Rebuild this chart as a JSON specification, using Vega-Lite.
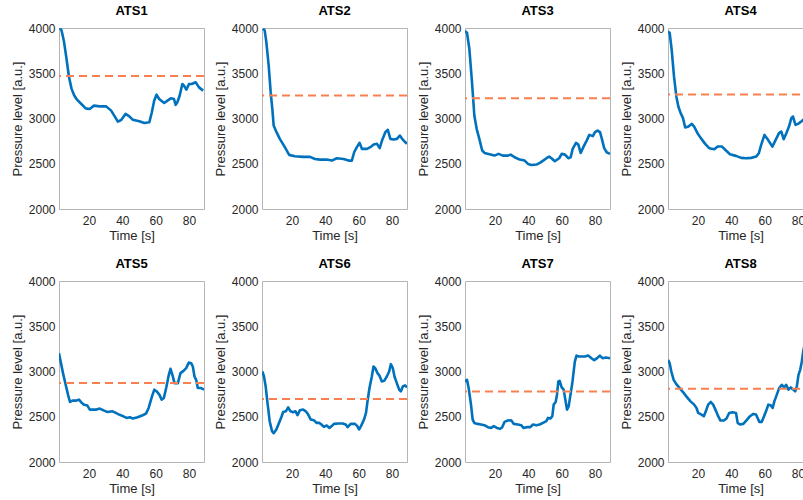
{
  "$schema": "https://vega.github.io/schema/vega-lite/v6.json",
  "padding": {"left": 10, "top": 4, "right": 0, "bottom": 0},
  "background": "white",
  "datasets": {
    "d": [
      {"s":"ATS1","t":2.5,"p":4000},{"s":"ATS1","t":3.5,"p":3975},{"s":"ATS1","t":5,"p":3850},{"s":"ATS1","t":6.5,"p":3660},{"s":"ATS1","t":7.9,"p":3470},{"s":"ATS1","t":9.5,"p":3330},{"s":"ATS1","t":11,"p":3260},{"s":"ATS1","t":12.5,"p":3215},{"s":"ATS1","t":15.4,"p":3160},{"s":"ATS1","t":18,"p":3112},{"s":"ATS1","t":20.4,"p":3105},{"s":"ATS1","t":23,"p":3142},{"s":"ATS1","t":26.4,"p":3134},{"s":"ATS1","t":30.3,"p":3134},{"s":"ATS1","t":33.3,"p":3087},{"s":"ATS1","t":35.5,"p":3020},{"s":"ATS1","t":37.3,"p":2965},{"s":"ATS1","t":39.3,"p":2983},{"s":"ATS1","t":41.9,"p":3050},{"s":"ATS1","t":44.2,"p":3024},{"s":"ATS1","t":46.2,"p":2987},{"s":"ATS1","t":50.2,"p":2969},{"s":"ATS1","t":53.2,"p":2950},{"s":"ATS1","t":56.2,"p":2958},{"s":"ATS1","t":57.7,"p":3068},{"s":"ATS1","t":59.1,"p":3197},{"s":"ATS1","t":60.5,"p":3263},{"s":"ATS1","t":62.1,"p":3215},{"s":"ATS1","t":65.1,"p":3171},{"s":"ATS1","t":67.1,"p":3197},{"s":"ATS1","t":69.1,"p":3223},{"s":"ATS1","t":71,"p":3215},{"s":"ATS1","t":72,"p":3150},{"s":"ATS1","t":73,"p":3179},{"s":"ATS1","t":74.4,"p":3252},{"s":"ATS1","t":76,"p":3381},{"s":"ATS1","t":77,"p":3363},{"s":"ATS1","t":78.4,"p":3318},{"s":"ATS1","t":80,"p":3381},{"s":"ATS1","t":81.6,"p":3381},{"s":"ATS1","t":84,"p":3400},{"s":"ATS1","t":86,"p":3344},{"s":"ATS1","t":88.5,"p":3308},
      {"s":"ATS2","t":2.6,"p":3993},{"s":"ATS2","t":3.6,"p":3974},{"s":"ATS2","t":4.6,"p":3845},{"s":"ATS2","t":6,"p":3587},{"s":"ATS2","t":7.2,"p":3291},{"s":"ATS2","t":8.2,"p":3107},{"s":"ATS2","t":9,"p":2922},{"s":"ATS2","t":10.7,"p":2849},{"s":"ATS2","t":12.7,"p":2775},{"s":"ATS2","t":15.7,"p":2683},{"s":"ATS2","t":18.3,"p":2598},{"s":"ATS2","t":21.7,"p":2583},{"s":"ATS2","t":26.7,"p":2576},{"s":"ATS2","t":30.8,"p":2576},{"s":"ATS2","t":33.8,"p":2553},{"s":"ATS2","t":36.8,"p":2546},{"s":"ATS2","t":40.8,"p":2546},{"s":"ATS2","t":43.9,"p":2535},{"s":"ATS2","t":46.9,"p":2561},{"s":"ATS2","t":50.9,"p":2553},{"s":"ATS2","t":53.9,"p":2535},{"s":"ATS2","t":55.9,"p":2535},{"s":"ATS2","t":57.3,"p":2627},{"s":"ATS2","t":58.9,"p":2683},{"s":"ATS2","t":60.5,"p":2731},{"s":"ATS2","t":62,"p":2664},{"s":"ATS2","t":65,"p":2664},{"s":"ATS2","t":67,"p":2683},{"s":"ATS2","t":69,"p":2712},{"s":"ATS2","t":71,"p":2720},{"s":"ATS2","t":72.6,"p":2672},{"s":"ATS2","t":74,"p":2756},{"s":"ATS2","t":76,"p":2849},{"s":"ATS2","t":77.5,"p":2875},{"s":"ATS2","t":79,"p":2775},{"s":"ATS2","t":81,"p":2768},{"s":"ATS2","t":83,"p":2775},{"s":"ATS2","t":84.7,"p":2812},{"s":"ATS2","t":86.1,"p":2775},{"s":"ATS2","t":87.5,"p":2746},{"s":"ATS2","t":89,"p":2720},
      {"s":"ATS3","t":2,"p":3967},{"s":"ATS3","t":3.2,"p":3948},{"s":"ATS3","t":4.6,"p":3771},{"s":"ATS3","t":6.2,"p":3402},{"s":"ATS3","t":7.6,"p":3033},{"s":"ATS3","t":9,"p":2886},{"s":"ATS3","t":10.6,"p":2775},{"s":"ATS3","t":12.3,"p":2646},{"s":"ATS3","t":13.7,"p":2620},{"s":"ATS3","t":16.7,"p":2605},{"s":"ATS3","t":19.7,"p":2590},{"s":"ATS3","t":22.1,"p":2609},{"s":"ATS3","t":24.7,"p":2590},{"s":"ATS3","t":27.8,"p":2590},{"s":"ATS3","t":29.4,"p":2601},{"s":"ATS3","t":31.8,"p":2572},{"s":"ATS3","t":34.8,"p":2546},{"s":"ATS3","t":37.8,"p":2535},{"s":"ATS3","t":39.8,"p":2498},{"s":"ATS3","t":41.8,"p":2487},{"s":"ATS3","t":44.9,"p":2491},{"s":"ATS3","t":46.9,"p":2509},{"s":"ATS3","t":48.9,"p":2535},{"s":"ATS3","t":50.9,"p":2561},{"s":"ATS3","t":52.5,"p":2579},{"s":"ATS3","t":53.9,"p":2561},{"s":"ATS3","t":55.9,"p":2528},{"s":"ATS3","t":58.5,"p":2561},{"s":"ATS3","t":60,"p":2609},{"s":"ATS3","t":62,"p":2601},{"s":"ATS3","t":64,"p":2561},{"s":"ATS3","t":65.4,"p":2572},{"s":"ATS3","t":66.6,"p":2664},{"s":"ATS3","t":68.6,"p":2731},{"s":"ATS3","t":70,"p":2712},{"s":"ATS3","t":71.4,"p":2620},{"s":"ATS3","t":73,"p":2683},{"s":"ATS3","t":75,"p":2756},{"s":"ATS3","t":76.6,"p":2819},{"s":"ATS3","t":78.7,"p":2805},{"s":"ATS3","t":80,"p":2849},{"s":"ATS3","t":81.5,"p":2867},{"s":"ATS3","t":83,"p":2849},{"s":"ATS3","t":84,"p":2783},{"s":"ATS3","t":85.5,"p":2672},{"s":"ATS3","t":87,"p":2627},{"s":"ATS3","t":89,"p":2609},
      {"s":"ATS4","t":2,"p":3963},{"s":"ATS4","t":3,"p":3945},{"s":"ATS4","t":4.2,"p":3760},{"s":"ATS4","t":5.6,"p":3465},{"s":"ATS4","t":7,"p":3244},{"s":"ATS4","t":8.2,"p":3133},{"s":"ATS4","t":9.6,"p":3059},{"s":"ATS4","t":11,"p":3004},{"s":"ATS4","t":12.3,"p":2900},{"s":"ATS4","t":14.3,"p":2911},{"s":"ATS4","t":16.3,"p":2941},{"s":"ATS4","t":17.7,"p":2911},{"s":"ATS4","t":19.7,"p":2838},{"s":"ATS4","t":21.7,"p":2783},{"s":"ATS4","t":24.3,"p":2720},{"s":"ATS4","t":26.7,"p":2672},{"s":"ATS4","t":29.8,"p":2661},{"s":"ATS4","t":31.8,"p":2690},{"s":"ATS4","t":34.4,"p":2690},{"s":"ATS4","t":36.8,"p":2646},{"s":"ATS4","t":39.2,"p":2605},{"s":"ATS4","t":42.8,"p":2587},{"s":"ATS4","t":45.9,"p":2565},{"s":"ATS4","t":48.9,"p":2561},{"s":"ATS4","t":51.9,"p":2565},{"s":"ATS4","t":54.9,"p":2579},{"s":"ATS4","t":56.5,"p":2616},{"s":"ATS4","t":57.9,"p":2708},{"s":"ATS4","t":59.9,"p":2819},{"s":"ATS4","t":62,"p":2764},{"s":"ATS4","t":64.6,"p":2690},{"s":"ATS4","t":66.6,"p":2764},{"s":"ATS4","t":68.6,"p":2838},{"s":"ATS4","t":70,"p":2856},{"s":"ATS4","t":71.4,"p":2771},{"s":"ATS4","t":73,"p":2838},{"s":"ATS4","t":74.6,"p":2911},{"s":"ATS4","t":76,"p":3004},{"s":"ATS4","t":77,"p":3022},{"s":"ATS4","t":78.5,"p":2930},{"s":"ATS4","t":80,"p":2941},{"s":"ATS4","t":82,"p":2967},{"s":"ATS4","t":84,"p":3000},{"s":"ATS4","t":86,"p":3040},{"s":"ATS4","t":89,"p":3060},
      {"s":"ATS5","t":2,"p":3201},{"s":"ATS5","t":3,"p":3110},{"s":"ATS5","t":4.4,"p":2982},{"s":"ATS5","t":6,"p":2853},{"s":"ATS5","t":7.4,"p":2744},{"s":"ATS5","t":8.6,"p":2663},{"s":"ATS5","t":10,"p":2678},{"s":"ATS5","t":12,"p":2678},{"s":"ATS5","t":14,"p":2689},{"s":"ATS5","t":15.7,"p":2652},{"s":"ATS5","t":17,"p":2634},{"s":"ATS5","t":19,"p":2623},{"s":"ATS5","t":20.5,"p":2579},{"s":"ATS5","t":22.5,"p":2579},{"s":"ATS5","t":24.5,"p":2579},{"s":"ATS5","t":26.5,"p":2590},{"s":"ATS5","t":29.1,"p":2568},{"s":"ATS5","t":31.1,"p":2553},{"s":"ATS5","t":34.1,"p":2560},{"s":"ATS5","t":36.1,"p":2542},{"s":"ATS5","t":38.1,"p":2524},{"s":"ATS5","t":40.6,"p":2505},{"s":"ATS5","t":42.6,"p":2487},{"s":"ATS5","t":44.6,"p":2495},{"s":"ATS5","t":46.2,"p":2480},{"s":"ATS5","t":49.2,"p":2495},{"s":"ATS5","t":52.2,"p":2517},{"s":"ATS5","t":54.2,"p":2535},{"s":"ATS5","t":55.8,"p":2597},{"s":"ATS5","t":57.8,"p":2725},{"s":"ATS5","t":59.2,"p":2799},{"s":"ATS5","t":60.6,"p":2780},{"s":"ATS5","t":62.2,"p":2744},{"s":"ATS5","t":63.6,"p":2689},{"s":"ATS5","t":64.9,"p":2707},{"s":"ATS5","t":66.3,"p":2817},{"s":"ATS5","t":67.9,"p":2963},{"s":"ATS5","t":68.9,"p":3029},{"s":"ATS5","t":70.3,"p":2945},{"s":"ATS5","t":71.3,"p":2872},{"s":"ATS5","t":73.3,"p":2872},{"s":"ATS5","t":74.9,"p":2982},{"s":"ATS5","t":76.7,"p":3007},{"s":"ATS5","t":78.3,"p":3037},{"s":"ATS5","t":79.9,"p":3099},{"s":"ATS5","t":81.3,"p":3092},{"s":"ATS5","t":82.3,"p":3055},{"s":"ATS5","t":83.3,"p":2945},{"s":"ATS5","t":84.3,"p":2908},{"s":"ATS5","t":85.3,"p":2817},{"s":"ATS5","t":87.3,"p":2817},{"s":"ATS5","t":89,"p":2799},
      {"s":"ATS6","t":2.2,"p":3000},{"s":"ATS6","t":3.2,"p":2945},{"s":"ATS6","t":4.2,"p":2836},{"s":"ATS6","t":5.2,"p":2670},{"s":"ATS6","t":6.6,"p":2451},{"s":"ATS6","t":8,"p":2341},{"s":"ATS6","t":9,"p":2319},{"s":"ATS6","t":10.6,"p":2359},{"s":"ATS6","t":12.2,"p":2432},{"s":"ATS6","t":13.6,"p":2494},{"s":"ATS6","t":14.7,"p":2553},{"s":"ATS6","t":16.3,"p":2560},{"s":"ATS6","t":17.7,"p":2604},{"s":"ATS6","t":19.1,"p":2560},{"s":"ATS6","t":20.7,"p":2549},{"s":"ATS6","t":22.1,"p":2560},{"s":"ATS6","t":23.3,"p":2517},{"s":"ATS6","t":24.7,"p":2571},{"s":"ATS6","t":26.7,"p":2579},{"s":"ATS6","t":28.3,"p":2560},{"s":"ATS6","t":29.7,"p":2524},{"s":"ATS6","t":31.3,"p":2469},{"s":"ATS6","t":33.1,"p":2462},{"s":"ATS6","t":34.7,"p":2432},{"s":"ATS6","t":36.3,"p":2432},{"s":"ATS6","t":37.7,"p":2414},{"s":"ATS6","t":39.1,"p":2388},{"s":"ATS6","t":40.8,"p":2403},{"s":"ATS6","t":42.4,"p":2377},{"s":"ATS6","t":43.8,"p":2396},{"s":"ATS6","t":45.2,"p":2421},{"s":"ATS6","t":47.8,"p":2425},{"s":"ATS6","t":50.4,"p":2425},{"s":"ATS6","t":52.2,"p":2414},{"s":"ATS6","t":53.4,"p":2385},{"s":"ATS6","t":55.2,"p":2421},{"s":"ATS6","t":57.8,"p":2421},{"s":"ATS6","t":59.2,"p":2396},{"s":"ATS6","t":60.2,"p":2359},{"s":"ATS6","t":61.4,"p":2396},{"s":"ATS6","t":63.2,"p":2469},{"s":"ATS6","t":64.4,"p":2542},{"s":"ATS6","t":65.3,"p":2670},{"s":"ATS6","t":66.5,"p":2817},{"s":"ATS6","t":67.9,"p":2945},{"s":"ATS6","t":68.9,"p":3055},{"s":"ATS6","t":69.9,"p":3037},{"s":"ATS6","t":71.3,"p":2982},{"s":"ATS6","t":72.5,"p":2952},{"s":"ATS6","t":73.9,"p":2890},{"s":"ATS6","t":75.3,"p":2897},{"s":"ATS6","t":76.9,"p":2945},{"s":"ATS6","t":78.3,"p":3000},{"s":"ATS6","t":79.3,"p":3081},{"s":"ATS6","t":80.5,"p":3037},{"s":"ATS6","t":81.5,"p":2945},{"s":"ATS6","t":82.9,"p":2872},{"s":"ATS6","t":84.3,"p":2799},{"s":"ATS6","t":85.3,"p":2780},{"s":"ATS6","t":86.5,"p":2835},{"s":"ATS6","t":87.8,"p":2846},{"s":"ATS6","t":89,"p":2824},
      {"s":"ATS7","t":2,"p":2890},{"s":"ATS7","t":3.2,"p":2908},{"s":"ATS7","t":4.2,"p":2817},{"s":"ATS7","t":5.6,"p":2634},{"s":"ATS7","t":6.6,"p":2469},{"s":"ATS7","t":7.6,"p":2432},{"s":"ATS7","t":9.6,"p":2421},{"s":"ATS7","t":11.6,"p":2414},{"s":"ATS7","t":13.6,"p":2407},{"s":"ATS7","t":15.7,"p":2385},{"s":"ATS7","t":17.7,"p":2377},{"s":"ATS7","t":19.3,"p":2396},{"s":"ATS7","t":21.1,"p":2377},{"s":"ATS7","t":23.1,"p":2366},{"s":"ATS7","t":24.3,"p":2385},{"s":"ATS7","t":25.7,"p":2443},{"s":"ATS7","t":27.7,"p":2458},{"s":"ATS7","t":29.7,"p":2462},{"s":"ATS7","t":31.3,"p":2421},{"s":"ATS7","t":33.7,"p":2414},{"s":"ATS7","t":35.7,"p":2407},{"s":"ATS7","t":37.1,"p":2377},{"s":"ATS7","t":39.1,"p":2385},{"s":"ATS7","t":41.2,"p":2385},{"s":"ATS7","t":42.8,"p":2414},{"s":"ATS7","t":44.8,"p":2407},{"s":"ATS7","t":46.8,"p":2414},{"s":"ATS7","t":48.8,"p":2432},{"s":"ATS7","t":50.8,"p":2451},{"s":"ATS7","t":51.8,"p":2487},{"s":"ATS7","t":53.2,"p":2480},{"s":"ATS7","t":54.4,"p":2506},{"s":"ATS7","t":55.2,"p":2634},{"s":"ATS7","t":56.4,"p":2663},{"s":"ATS7","t":57.2,"p":2744},{"s":"ATS7","t":58,"p":2890},{"s":"ATS7","t":58.8,"p":2897},{"s":"ATS7","t":60,"p":2824},{"s":"ATS7","t":61.2,"p":2799},{"s":"ATS7","t":62.2,"p":2689},{"s":"ATS7","t":63.2,"p":2579},{"s":"ATS7","t":64.2,"p":2615},{"s":"ATS7","t":65.3,"p":2744},{"s":"ATS7","t":66.5,"p":2890},{"s":"ATS7","t":67.9,"p":3110},{"s":"ATS7","t":68.9,"p":3176},{"s":"ATS7","t":70.3,"p":3165},{"s":"ATS7","t":71.9,"p":3165},{"s":"ATS7","t":73.9,"p":3165},{"s":"ATS7","t":75.9,"p":3176},{"s":"ATS7","t":77.9,"p":3147},{"s":"ATS7","t":79.5,"p":3125},{"s":"ATS7","t":81.3,"p":3147},{"s":"ATS7","t":82.9,"p":3176},{"s":"ATS7","t":84.5,"p":3147},{"s":"ATS7","t":86.5,"p":3154},{"s":"ATS7","t":89,"p":3147},
      {"s":"ATS8","t":2,"p":3128},{"s":"ATS8","t":3,"p":3092},{"s":"ATS8","t":4,"p":3000},{"s":"ATS8","t":5.4,"p":2908},{"s":"ATS8","t":7,"p":2861},{"s":"ATS8","t":9,"p":2817},{"s":"ATS8","t":11,"p":2773},{"s":"ATS8","t":13,"p":2725},{"s":"ATS8","t":15.5,"p":2670},{"s":"ATS8","t":17.7,"p":2634},{"s":"ATS8","t":19.1,"p":2597},{"s":"ATS8","t":20.1,"p":2542},{"s":"ATS8","t":22.1,"p":2524},{"s":"ATS8","t":23.5,"p":2506},{"s":"ATS8","t":24.7,"p":2560},{"s":"ATS8","t":26.1,"p":2634},{"s":"ATS8","t":27.7,"p":2663},{"s":"ATS8","t":29.1,"p":2634},{"s":"ATS8","t":30.7,"p":2568},{"s":"ATS8","t":32.1,"p":2506},{"s":"ATS8","t":33.5,"p":2458},{"s":"ATS8","t":35.5,"p":2458},{"s":"ATS8","t":37.1,"p":2480},{"s":"ATS8","t":38.7,"p":2542},{"s":"ATS8","t":40.8,"p":2549},{"s":"ATS8","t":42.8,"p":2542},{"s":"ATS8","t":43.8,"p":2432},{"s":"ATS8","t":45.2,"p":2414},{"s":"ATS8","t":47.2,"p":2421},{"s":"ATS8","t":49.2,"p":2462},{"s":"ATS8","t":51.2,"p":2506},{"s":"ATS8","t":53.2,"p":2531},{"s":"ATS8","t":54.8,"p":2524},{"s":"ATS8","t":56.8,"p":2443},{"s":"ATS8","t":58.2,"p":2443},{"s":"ATS8","t":59.2,"p":2487},{"s":"ATS8","t":60.8,"p":2560},{"s":"ATS8","t":62.2,"p":2634},{"s":"ATS8","t":63.6,"p":2626},{"s":"ATS8","t":64.8,"p":2597},{"s":"ATS8","t":65.8,"p":2670},{"s":"ATS8","t":67.3,"p":2744},{"s":"ATS8","t":68.7,"p":2817},{"s":"ATS8","t":70.3,"p":2853},{"s":"ATS8","t":71.7,"p":2824},{"s":"ATS8","t":72.9,"p":2853},{"s":"ATS8","t":74.3,"p":2799},{"s":"ATS8","t":75.7,"p":2824},{"s":"ATS8","t":77.3,"p":2799},{"s":"ATS8","t":78.3,"p":2780},{"s":"ATS8","t":79.3,"p":2835},{"s":"ATS8","t":80.3,"p":2963},{"s":"ATS8","t":81.3,"p":3018},{"s":"ATS8","t":82.3,"p":3110},{"s":"ATS8","t":83.1,"p":3220},{"s":"ATS8","t":84,"p":3300},{"s":"ATS8","t":85.5,"p":3400},{"s":"ATS8","t":87,"p":3420},{"s":"ATS8","t":89,"p":3400},
      {"s":"ATS1","thr":3470},{"s":"ATS2","thr":3255},{"s":"ATS3","thr":3225},{"s":"ATS4","thr":3265},
      {"s":"ATS5","thr":2872},{"s":"ATS6","thr":2695},{"s":"ATS7","thr":2780},{"s":"ATS8","thr":2810}
    ]
  },
  "data": {"name": "d"},
  "facet": {
    "field": "s",
    "type": "nominal",
    "title": null,
    "header": {
      "labelFont": "Liberation Sans",
      "labelFontSize": 13,
      "labelFontWeight": "bold",
      "labelColor": "#000000",
      "labelPadding": 4
    }
  },
  "columns": 4,
  "bounds": "flush",
  "spacing": {"column": 58, "row": 72},
  "resolve": {"axis": {"x": "independent", "y": "independent"}},
  "spec": {
    "width": 145,
    "height": 181,
    "layer": [
      {
        "transform": [{"filter": "datum.p != null"}],
        "mark": {"type": "line", "color": "#0072BD", "strokeWidth": 2.6, "clip": true, "strokeJoin": "round"},
        "encoding": {
          "x": {
            "field": "t", "type": "quantitative",
            "scale": {"domain": [2, 89], "nice": false, "zero": false},
            "axis": {"values": [20, 40, 60, 80], "title": "Time [s]", "format": "d"}
          },
          "y": {
            "field": "p", "type": "quantitative",
            "scale": {"domain": [2000, 4000], "nice": false, "zero": false},
            "axis": {"values": [2000, 2500, 3000, 3500, 4000], "title": "Pressure level [a.u.]", "format": "d"}
          }
        }
      },
      {
        "transform": [{"filter": "datum.thr != null"}],
        "mark": {"type": "rule", "color": "#F97F51", "strokeWidth": 2, "strokeDash": [8, 5]},
        "encoding": {
          "y": {"field": "thr", "type": "quantitative"}
        }
      }
    ]
  },
  "config": {
    "font": "Liberation Sans",
    "view": {"stroke": "#b5b5b5", "strokeWidth": 1},
    "axis": {
      "grid": false,
      "domain": false,
      "ticks": false,
      "labelFont": "Liberation Sans",
      "labelFontSize": 12,
      "labelColor": "#262626",
      "titleFont": "Liberation Sans",
      "titleFontSize": 13,
      "titleFontWeight": "normal",
      "titleColor": "#262626",
      "labelPadding": 6,
      "titlePadding": 3
    },
    "axisY": {"labelPadding": 4, "titlePadding": 4}
  }
}
